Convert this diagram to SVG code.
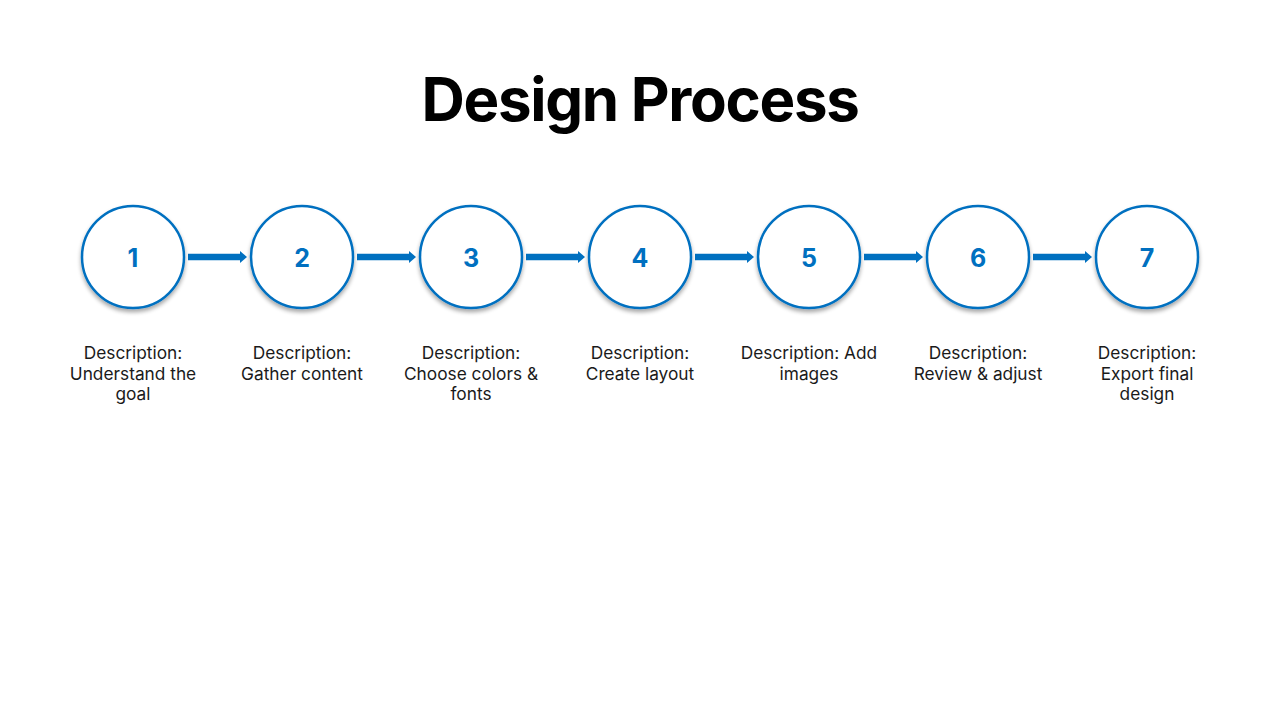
<svg xmlns="http://www.w3.org/2000/svg" width="1280" height="720" viewBox="0 0 1280 720">
<defs>
<filter id="sh" x="-30%" y="-30%" width="160%" height="160%">
<feGaussianBlur in="SourceAlpha" stdDeviation="2"/>
<feOffset dx="0" dy="3"/>
<feComponentTransfer><feFuncA type="linear" slope="0.35"/></feComponentTransfer>
<feMerge><feMergeNode/><feMergeNode in="SourceGraphic"/></feMerge>
</filter>
<marker id="ah" markerWidth="8" markerHeight="12" refX="0" refY="6" orient="auto" markerUnits="userSpaceOnUse">
<path d="M0,0 L7,6 L0,12 Z" fill="#0070C0"/>
</marker>
</defs>
<style>
.c{fill:#fff;stroke:#0070C0;stroke-width:2.5}
.n{font-family:Inter,"Liberation Sans",sans-serif;font-weight:700;font-size:25px;fill:#0070C0;text-anchor:middle}
.d{font-family:Inter,"Liberation Sans",sans-serif;font-size:17.3px;fill:#1a1a1a;text-anchor:middle}
.a{stroke:#0070C0;stroke-width:6.5;fill:none}
</style>
<rect width="1280" height="720" fill="#fff"/>
<text x="640" y="121" font-family="Inter,'Liberation Sans',sans-serif" font-weight="700" font-size="60" text-anchor="middle" fill="#000" letter-spacing="-1.3">Design Process</text>
<g id="connectors">
<line class="a" x1="188" y1="257" x2="240" y2="257" marker-end="url(#ah)"/>
<line class="a" x1="357" y1="257" x2="409" y2="257" marker-end="url(#ah)"/>
<line class="a" x1="526" y1="257" x2="578" y2="257" marker-end="url(#ah)"/>
<line class="a" x1="695" y1="257" x2="747" y2="257" marker-end="url(#ah)"/>
<line class="a" x1="864" y1="257" x2="916" y2="257" marker-end="url(#ah)"/>
<line class="a" x1="1033" y1="257" x2="1085" y2="257" marker-end="url(#ah)"/>
</g>
<g id="node1"><circle class="c" cx="133" cy="257" r="51" filter="url(#sh)"/><text class="n" x="133" y="267">1</text>
<text class="d" x="133" y="359">Description:</text><text class="d" x="133" y="380">Understand the</text><text class="d" x="133" y="400">goal</text></g>
<g id="node2"><circle class="c" cx="302" cy="257" r="51" filter="url(#sh)"/><text class="n" x="302" y="267">2</text>
<text class="d" x="302" y="359">Description:</text><text class="d" x="302" y="380">Gather content</text></g>
<g id="node3"><circle class="c" cx="471" cy="257" r="51" filter="url(#sh)"/><text class="n" x="471" y="267">3</text>
<text class="d" x="471" y="359">Description:</text><text class="d" x="471" y="380">Choose colors &amp;</text><text class="d" x="471" y="400">fonts</text></g>
<g id="node4"><circle class="c" cx="640" cy="257" r="51" filter="url(#sh)"/><text class="n" x="640" y="267">4</text>
<text class="d" x="640" y="359">Description:</text><text class="d" x="640" y="380">Create layout</text></g>
<g id="node5"><circle class="c" cx="809" cy="257" r="51" filter="url(#sh)"/><text class="n" x="809" y="267">5</text>
<text class="d" x="809" y="359">Description: Add</text><text class="d" x="809" y="380">images</text></g>
<g id="node6"><circle class="c" cx="978" cy="257" r="51" filter="url(#sh)"/><text class="n" x="978" y="267">6</text>
<text class="d" x="978" y="359">Description:</text><text class="d" x="978" y="380">Review &amp; adjust</text></g>
<g id="node7"><circle class="c" cx="1147" cy="257" r="51" filter="url(#sh)"/><text class="n" x="1147" y="267">7</text>
<text class="d" x="1147" y="359">Description:</text><text class="d" x="1147" y="380">Export final</text><text class="d" x="1147" y="400">design</text></g>
</svg>
